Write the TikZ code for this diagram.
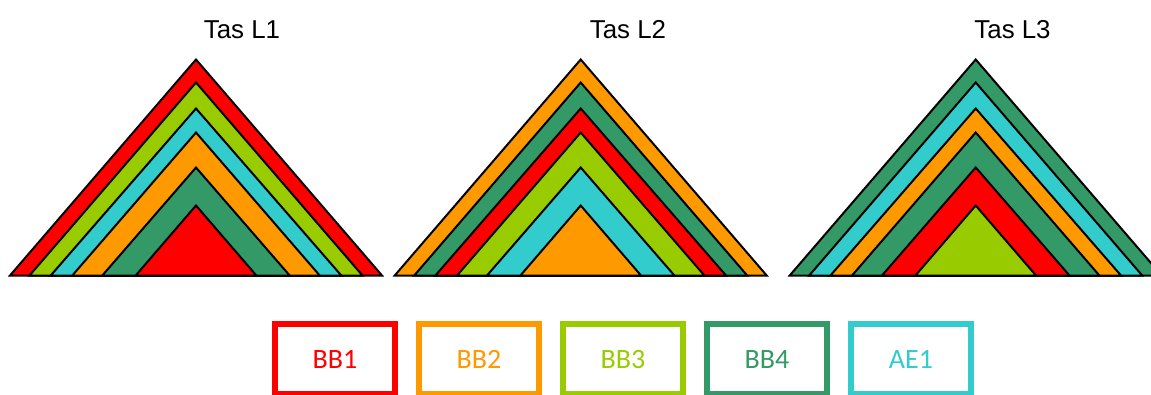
\documentclass[tikz,border=0pt]{standalone}
\usepackage{fontspec}
\setmainfont{Liberation Sans}
\newfontfamily\legendfont{Carlito}
\usepackage{tikz}
\definecolor{bbred}{HTML}{FF0000}
\definecolor{bborange}{HTML}{FF9900}
\definecolor{bblime}{HTML}{99CC00}
\definecolor{bbgreen}{HTML}{339966}
\definecolor{aecyan}{HTML}{33CCCC}

\begin{document}
\begin{tikzpicture}[
          x=0.75pt,y=-0.75pt,
          layer/.style={draw=black,line width=1.5pt,line join=miter},
          heading/.style={font=\fontsize{19.4}{23}\selectfont,anchor=base},
          legendbox/.style={draw=#1,text=#1,line width=4.3pt,inner sep=0pt,
                            minimum width=90pt,minimum height=52.5pt,
                            font=\legendfont\fontsize{21}{25}\selectfont},
      ]
        \clip (0,0) rectangle (1151,394);

        \node[heading] (h1) at (242,38.3) {Tas L1};
        \node[heading] (h2) at (628,38.3) {Tas L2};
        \node[heading] (h3) at (1012.5,38.3) {Tas L3};

        % Tas L1
        \begin{scope}[shift={(196,275.5)}]
          \filldraw[layer,fill=bbred]    (-186,0)   -- (0,-216) -- (186,0)   -- cycle;
          \filldraw[layer,fill=bblime]   (-166.5,0) -- (0,-193) -- (166.5,0) -- cycle;
          \filldraw[layer,fill=aecyan]   (-145.3,0) -- (0,-167) -- (145.3,0) -- cycle;
          \filldraw[layer,fill=bborange] (-123.7,0) -- (0,-143) -- (123.7,0) -- cycle;
          \filldraw[layer,fill=bbgreen]  (-93.7,0)  -- (0,-108) -- (93.7,0)  -- cycle;
          \filldraw[layer,fill=bbred]    (-60.3,0)  -- (0,-70)  -- (60.3,0)  -- cycle;
        \end{scope}

        % Tas L2
        \begin{scope}[shift={(580.7,275.5)}]
          \filldraw[layer,fill=bborange] (-186,0)   -- (0,-216) -- (186,0)   -- cycle;
          \filldraw[layer,fill=bbgreen]  (-166.5,0) -- (0,-193) -- (166.5,0) -- cycle;
          \filldraw[layer,fill=bbred]    (-145.3,0) -- (0,-167) -- (145.3,0) -- cycle;
          \filldraw[layer,fill=bblime]   (-123.7,0) -- (0,-143) -- (123.7,0) -- cycle;
          \filldraw[layer,fill=aecyan]   (-93.7,0)  -- (0,-108) -- (93.7,0)  -- cycle;
          \filldraw[layer,fill=bborange] (-60.3,0)  -- (0,-70)  -- (60.3,0)  -- cycle;
        \end{scope}

        % Tas L3
        \begin{scope}[shift={(975.7,275.5)}]
          \filldraw[layer,fill=bbgreen]  (-186,0)   -- (0,-216) -- (186,0)   -- cycle;
          \filldraw[layer,fill=aecyan]   (-166.5,0) -- (0,-193) -- (166.5,0) -- cycle;
          \filldraw[layer,fill=bborange] (-145.3,0) -- (0,-167) -- (145.3,0) -- cycle;
          \filldraw[layer,fill=bbgreen]  (-123.7,0) -- (0,-143) -- (123.7,0) -- cycle;
          \filldraw[layer,fill=bbred]    (-93.7,0)  -- (0,-108) -- (93.7,0)  -- cycle;
          \filldraw[layer,fill=bblime]   (-60.3,0)  -- (0,-70)  -- (60.3,0)  -- cycle;
        \end{scope}

        % legend
        \node[legendbox=bbred]    (bb1) at (335,359) {BB1};
        \node[legendbox=bborange] (bb2) at (479,359) {BB2};
        \node[legendbox=bblime]   (bb3) at (623,359) {BB3};
        \node[legendbox=bbgreen]  (bb4) at (767,359) {BB4};
        \node[legendbox=aecyan]   (ae1) at (911,359) {AE1};
      \end{tikzpicture}
\end{document}
